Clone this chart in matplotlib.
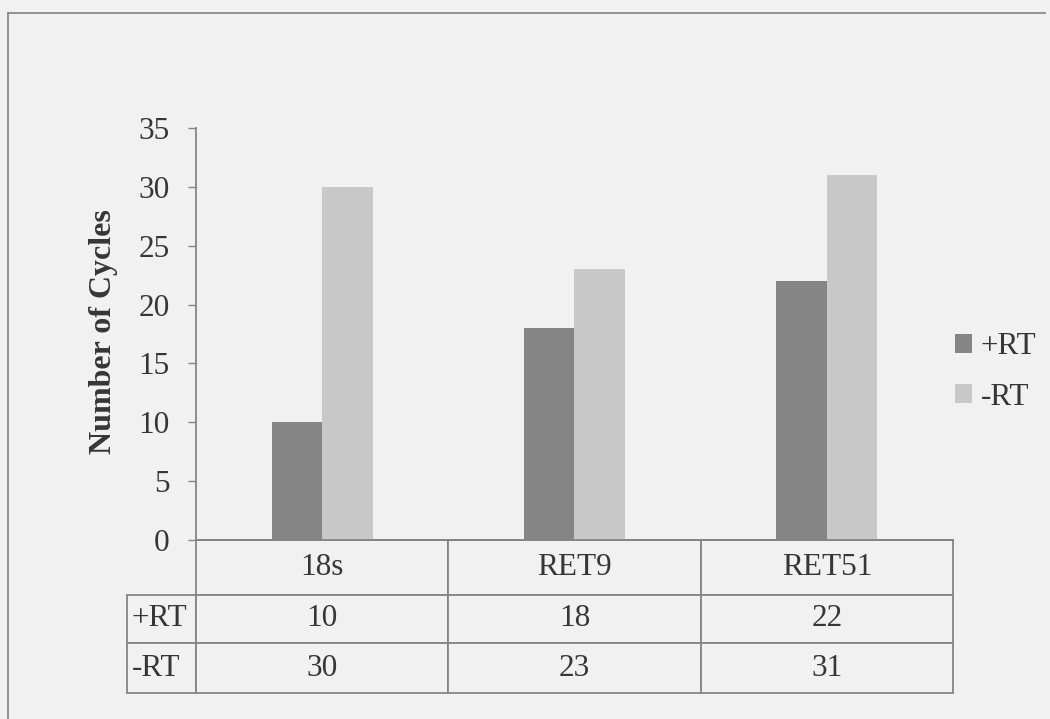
import matplotlib
matplotlib.use("Agg")
import matplotlib.pyplot as plt
from matplotlib.table import Table
from matplotlib.lines import Line2D
import numpy as np

# data
categories = ["18s", "RET9", "RET51"]
series_names = ["+RT", "-RT"]
plus_rt = [10, 18, 22]
minus_rt = [30, 23, 31]
y_ticks = [0, 5, 10, 15, 20, 25, 30, 35]

bg = "#f1f1f1"
edge = "#858585"
colors = ["#858585", "#c8c8c8"]
txt = "#363636"
fs = 22.5

plt.rcParams['font.family'] = ['Liberation Serif', 'DejaVu Serif']
plt.rcParams['font.size'] = fs

W, H = 1050, 719
fig = plt.figure(figsize=(W / 100, H / 100), dpi=100, facecolor=bg)

# axes placement in pixels
ax_l, ax_r, ax_t, ax_b = 196, 953, 128, 540
ax = fig.add_axes([ax_l / W, 1 - ax_b / H, (ax_r - ax_l) / W, (ax_b - ax_t) / H])
ax.set_facecolor(bg)

x = np.arange(len(categories))
bw = 0.2
ax.bar(x - bw / 2, plus_rt, bw, color=colors[0], label=series_names[0])
ax.bar(x + bw / 2, minus_rt, bw, color=colors[1], label=series_names[1])

ax.set_xlim(-0.5, len(categories) - 0.5)
ax.set_ylim(0, 35)
ax.set_yticks(y_ticks)
ax.set_xticks([])
for s in ["top", "right"]:
    ax.spines[s].set_visible(False)
for s in ["left", "bottom"]:
    ax.spines[s].set_color(edge)
    ax.spines[s].set_linewidth(1.3)
ax.tick_params(axis="y", length=6, width=1, color=edge, pad=13, labelsize=fs, labelcolor=txt)
ax.set_ylabel("Number of Cycles", fontweight="bold", fontsize=23, color=txt)
ax.yaxis.set_label_coords(-0.103, 0.505)

# data table under the axes
ax_w = ax_r - ax_l
ax_h = ax_b - ax_t
tbl_left, tbl_bottom = 127, 693
lab_w = ax_l - tbl_left
cat_w = ax_w / len(categories)
tbl = Table(ax, bbox=[(tbl_left - ax_l) / ax_w, -(tbl_bottom - ax_b) / ax_h,
                      (ax_r - tbl_left) / ax_w, (tbl_bottom - ax_b) / ax_h])
row_h = [55, 48, 50]
for j, c in enumerate(categories):
    tbl.add_cell(0, j + 1, width=cat_w, height=row_h[0], text=c, loc="center")
for i, (name, vals) in enumerate(zip(series_names, [plus_rt, minus_rt])):
    cell = tbl.add_cell(i + 1, 0, width=lab_w, height=row_h[i + 1], text=name, loc="left")
    cell.PAD = 0.07
    for j, v in enumerate(vals):
        tbl.add_cell(i + 1, j + 1, width=cat_w, height=row_h[i + 1], text=str(v), loc="center")
tbl.auto_set_font_size(False)
for (r, c), cell in tbl.get_celld().items():
    cell.set_edgecolor(edge)
    cell.set_linewidth(1.3)
    cell.set_facecolor(bg)
    cell.get_text().set_fontsize(fs)
    cell.get_text().set_color(txt)
ax.add_table(tbl)

# legend
fig.legend(loc="center left", bbox_to_anchor=(942 / W, 1 - 372 / H), frameon=False,
           borderaxespad=0, handlelength=0.55, handleheight=0.55, handletextpad=0.28,
           labelspacing=0.68, fontsize=fs, labelcolor=txt)

# outer frame (top and left only visible)
fig.add_artist(Line2D([8 / W, 8 / W], [0, 1 - 13 / H], transform=fig.transFigure, color="#8a8a8a", lw=1.3))
fig.add_artist(Line2D([8 / W, 1045 / W], [1 - 13 / H, 1 - 13 / H], transform=fig.transFigure, color="#8a8a8a", lw=1.3))

fig.savefig("out.png", dpi=100, facecolor=bg)
